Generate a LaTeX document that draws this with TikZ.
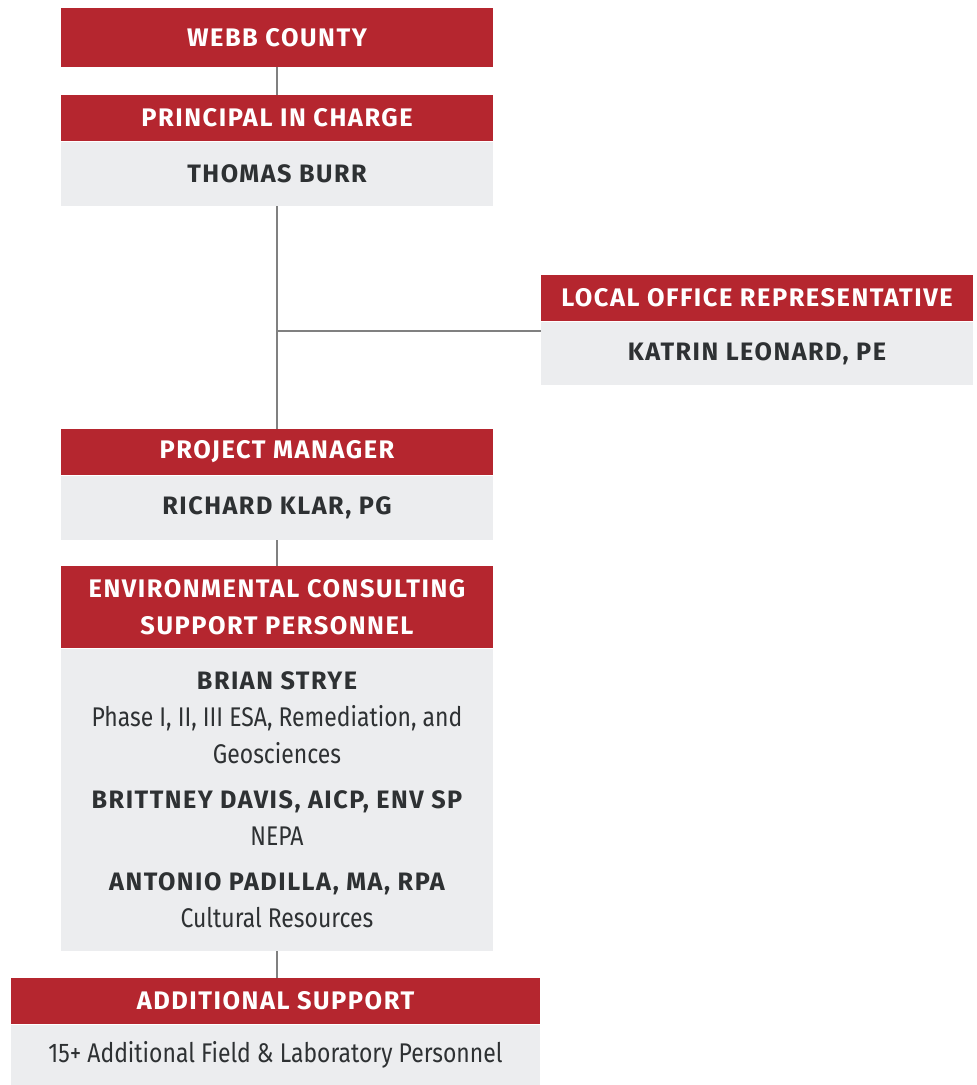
\documentclass[tikz,border=0pt]{standalone}
\usepackage{fontspec}
\setmainfont{Fira Sans}
\newfontfamily\headfont{Fira Sans}[LetterSpace=6]
\newfontfamily\narrowfont{Fira Sans}[FakeStretch=0.85]
\usetikzlibrary{positioning}
\definecolor{boxred}{HTML}{B5262F}
\definecolor{boxgray}{HTML}{ECEDEF}
\definecolor{inkgray}{HTML}{2E3133}
\definecolor{linkgray}{HTML}{808080}
\tikzset{
	head/.style={fill=boxred, text=white, font=\headfont\bfseries\fontsize{12.7}{15}\selectfont, inner sep=0pt, minimum width=216pt, minimum height=23pt, align=center},
	body/.style={fill=boxgray, text=inkgray, font=\headfont\bfseries\fontsize{12.6}{15}\selectfont, inner sep=0pt, minimum width=216pt, minimum height=32pt, align=center},
	link/.style={draw=linkgray, line width=1pt}
}
\begin{document}
\begin{tikzpicture}[x=0.5pt, y=-0.5pt]
	\useasboundingbox (0,0) rectangle (976,1085);
	% chain on the left
	\node[head, minimum height=29.5pt] (webb) at (277,37.5) {WEBB COUNTY};
	\node[head] (pichead) at (277,118) {PRINCIPAL IN CHARGE};
	\node[body, below=0pt of pichead] (picbody) {THOMAS BURR};
	\node[head] (pmhead) at (277,452) {PROJECT MANAGER};
	\node[body, below=0pt of pmhead] (pmbody) {RICHARD KLAR, PG};
	\node[head, minimum height=41pt, font=\headfont\bfseries\fontsize{12.7}{18.5}\selectfont] (echead) at (277,607) {ENVIRONMENTAL CONSULTING\\SUPPORT PERSONNEL};
	\node[body, below=0pt of echead, minimum height=151pt] (ecbody) {};
	\node[text=inkgray, align=center, font=\fontsize{12.6}{18.5}\selectfont] (ectext) at (ecbody.center) {%
		{\headfont\bfseries BRIAN STRYE}\\
		{\narrowfont\fontsize{13.5}{18.5}\selectfont Phase I, II, III ESA, Remediation, and}\\
		{\narrowfont\fontsize{13.5}{18.5}\selectfont Geosciences}\\[4pt]
		{\headfont\bfseries BRITTNEY DAVIS, AICP, ENV SP}\\
		{\narrowfont\fontsize{13.5}{18.5}\selectfont NEPA}\\[4pt]
		{\headfont\bfseries ANTONIO PADILLA, MA, RPA}\\
		{\narrowfont\fontsize{13.5}{18.5}\selectfont Cultural Resources}};
	\node[head, minimum width=264.5pt] (ashead) at (275.5,1001) {ADDITIONAL SUPPORT};
	\node[body, below=0pt of ashead, minimum width=264.5pt, minimum height=30.5pt, font=\narrowfont\fontsize{13.5}{15}\selectfont] (asbody) {15+ Additional Field \& Laboratory Personnel};
	% side box
	\node[head] (lorhead) at (757,298) {LOCAL OFFICE REPRESENTATIVE};
	\node[body, below=0pt of lorhead, minimum height=31.5pt] (lorbody) {KATRIN LEONARD, PE};
	% connectors
	\coordinate (junc) at (277,331);
	\draw[link] (webb) -- (pichead);
	\draw[link] (picbody) -- (pmhead);
	\draw[link] (junc) -- (junc -| lorbody.west);
	\draw[link] (pmbody) -- (echead);
	\draw[link] (ecbody) -- (ecbody |- ashead.north);
\end{tikzpicture}
\end{document}
